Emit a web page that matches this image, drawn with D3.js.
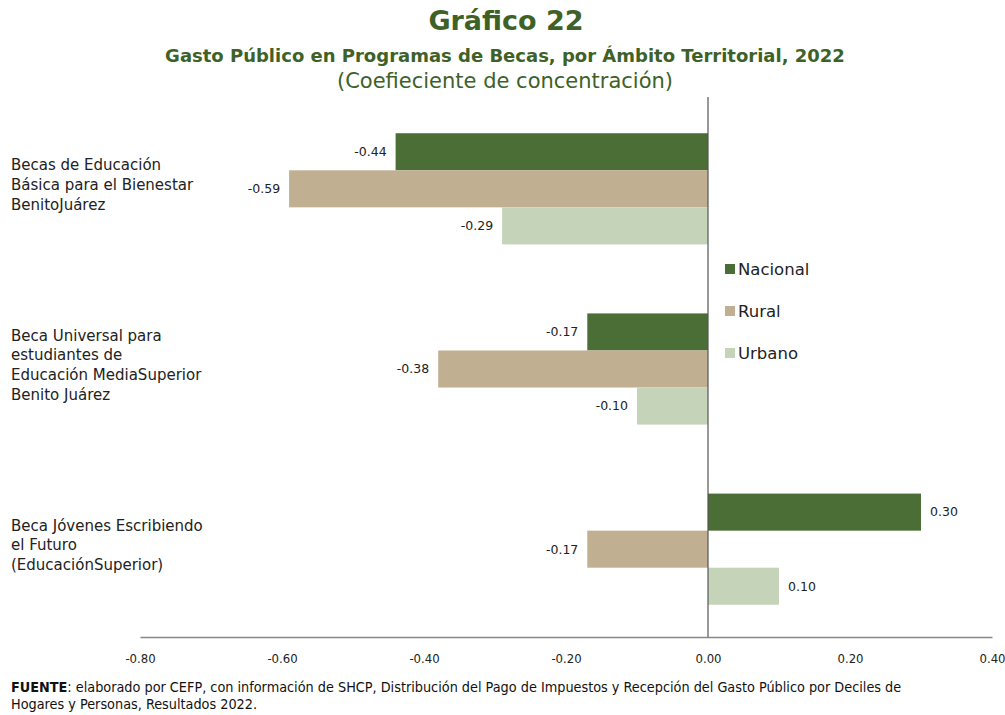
<!DOCTYPE html>
<html>
<head>
<meta charset="utf-8">
<script src="https://cdn.jsdelivr.net/npm/d3@7"></script>
<style>
  html, body { margin: 0; padding: 0; background: #fff; }
  svg { display: block; }
</style>
</head>
<body>
<svg id="chart" width="1005" height="715"></svg>
<script>
// Programs (categories), each label split into its display lines
const programs = [
  ["Becas de Educación", "Básica para el Bienestar", "BenitoJuárez"],
  ["Beca Universal para", "estudiantes de", "Educación MediaSuperior", "Benito Juárez"],
  ["Beca Jóvenes Escribiendo", "el Futuro", "(EducaciónSuperior)"]
];
const seriesNames = ["Nacional", "Rural", "Urbano"];
const nacional = [-0.44, -0.17, 0.30];
const rural    = [-0.59, -0.38, -0.17];
const urbano   = [-0.29, -0.10, 0.10];
const tickValues = [-0.80, -0.60, -0.40, -0.20, 0.00, 0.20, 0.40];

const colors = ["#4a6e36", "#c0b091", "#c5d4b9"];
const titleColor = "#3e6128";
const font = "'Century Gothic', 'DejaVu Sans', sans-serif";
const narrow = "'Liberation Sans Narrow', 'DejaVu Sans Condensed', sans-serif";

// number format with a plain hyphen as the minus sign
const fmt = d3.formatLocale({ decimal: ".", thousands: ",", grouping: [3], currency: ["", ""], minus: "-" }).format(".2f");

const svg = d3.select("#chart");
const seriesValues = [nacional, rural, urbano];

const x = d3.scaleLinear().domain([-0.8, 0.4]).range([140, 992]);
const y0 = d3.scaleBand().domain(d3.range(programs.length)).range([99, 639]).paddingInner(0.383).paddingOuter(0.19);
const y1 = d3.scaleBand().domain(seriesNames).range([0, y0.bandwidth()]);

// Titles
svg.append("text").attr("x", 506).attr("y", 30).attr("text-anchor", "middle")
  .attr("font-family", font).attr("font-size", 27).attr("font-weight", "bold")
  .attr("fill", titleColor).text("Gráfico 22");
svg.append("text").attr("x", 505).attr("y", 62).attr("text-anchor", "middle")
  .attr("font-family", font).attr("font-size", 18).attr("font-weight", "bold")
  .attr("fill", titleColor).text("Gasto Público en Programas de Becas, por Ámbito Territorial, 2022");
svg.append("text").attr("x", 505).attr("y", 88).attr("text-anchor", "middle")
  .attr("font-family", font).attr("font-size", 21)
  .attr("fill", titleColor).text("(Coefieciente de concentración)");

// Bars
const groups = svg.append("g").selectAll("g").data(programs).join("g")
  .attr("transform", (d, i) => `translate(0,${y0(i)})`);

seriesNames.forEach((s, si) => {
  groups.append("rect")
    .attr("x", (d, i) => x(Math.min(0, seriesValues[si][i])))
    .attr("y", y1(s))
    .attr("width", (d, i) => Math.abs(x(seriesValues[si][i]) - x(0)))
    .attr("height", y1.bandwidth())
    .attr("fill", colors[si]);

  groups.append("text")
    .attr("x", (d, i) => seriesValues[si][i] < 0 ? x(seriesValues[si][i]) - 9 : x(seriesValues[si][i]) + 9)
    .attr("y", y1(s) + y1.bandwidth() / 2)
    .attr("dy", "0.35em")
    .attr("text-anchor", (d, i) => seriesValues[si][i] < 0 ? "end" : "start")
    .attr("font-family", font).attr("font-size", 12.5).attr("fill", "#222")
    .text((d, i) => fmt(seriesValues[si][i]));
});

// Category labels
svg.append("g").selectAll("text").data(programs).join("text")
  .attr("font-family", font).attr("font-size", 15).attr("fill", "#222")
  .each(function(lines, i) {
    const t = d3.select(this);
    const lh = 19.7;
    const cy = y0(i) + y0.bandwidth() / 2 - 4;
    const start = cy - (lines.length - 1) * lh / 2;
    lines.forEach((ln, k) => {
      t.append("tspan").attr("x", 11).attr("y", start + k * lh).attr("dy", "0.35em").text(ln);
    });
  });

// Zero line
svg.append("line").attr("x1", x(0)).attr("x2", x(0)).attr("y1", 97).attr("y2", 637)
  .attr("stroke", "#555").attr("stroke-width", 1.2);

// X axis
const xAxis = svg.append("g").attr("transform", "translate(0,637)")
  .call(d3.axisBottom(x).tickValues(tickValues).tickFormat(fmt).tickSize(0).tickPadding(17));
xAxis.select(".domain").attr("stroke", "#888").attr("stroke-width", 1.5);
xAxis.selectAll("text").attr("font-family", narrow)
  .attr("font-size", 13).attr("fill", "#222");

// Legend
const legend = svg.append("g").selectAll("g").data(seriesNames).join("g")
  .attr("transform", (d, i) => `translate(725,${269 + i * 42})`);
legend.append("rect").attr("x", 0).attr("y", -5).attr("width", 10).attr("height", 10)
  .attr("fill", (d, i) => colors[i]);
legend.append("text").attr("x", 13).attr("y", 0).attr("dy", "0.35em")
  .attr("font-family", font).attr("font-size", 16.5).attr("fill", "#222").text(d => d);

// Source note
const note = svg.append("text").attr("font-family", narrow).attr("font-size", 14.3).attr("fill", "#111");
const l1 = note.append("tspan").attr("x", 11).attr("y", 692);
l1.append("tspan").attr("font-weight", "bold").text("FUENTE");
l1.append("tspan").text(": elaborado por CEFP, con información de SHCP, Distribución del Pago de Impuestos y Recepción del Gasto Público por Deciles de");
note.append("tspan").attr("x", 11).attr("y", 709).text("Hogares y Personas, Resultados 2022.");
</script>
</body>
</html>
